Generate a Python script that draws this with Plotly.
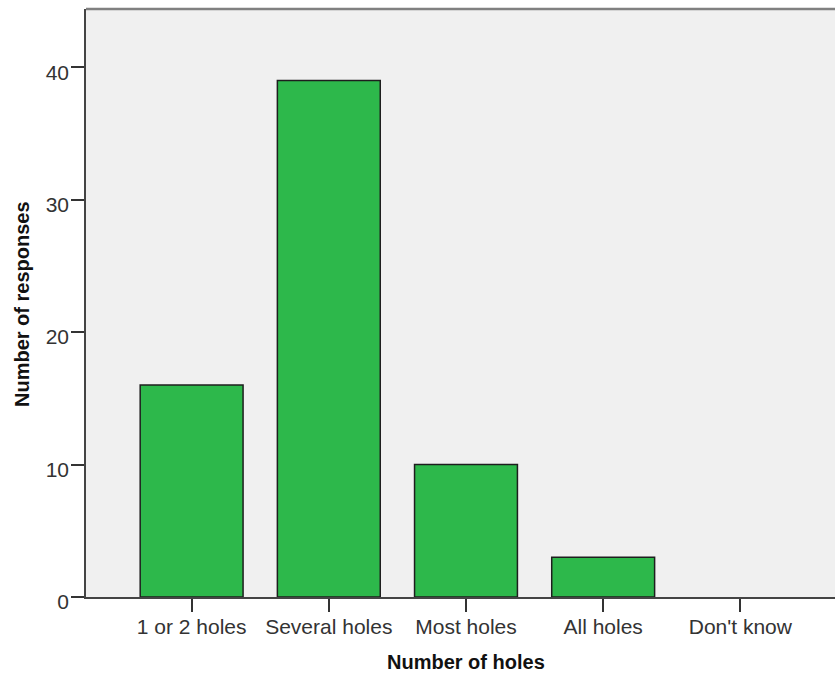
import plotly.graph_objects as go

categories = ["1 or 2 holes", "Several holes", "Most holes", "All holes", "Don't know"]
responses = [16, 39, 10, 3, 0]
y_ticks = [0, 10, 20, 30, 40]

W, H = 835, 673
L, R, T, B = 86, 0, 9, 76

# no outline on empty (zero-height) bars
line_widths = [1.5 if v > 0 else 0 for v in responses]

fig = go.Figure()
fig.add_trace(go.Bar(
    x=list(range(len(categories))),
    y=responses,
    width=0.75,
    marker=dict(color="#2db84b", line=dict(color="#1e1e1e", width=line_widths)),
    hoverinfo="skip",
))

font_family = "Liberation Sans, Arial, sans-serif"

fig.update_layout(
    width=W, height=H,
    margin=dict(l=L, r=R, t=T, b=B, pad=0),
    paper_bgcolor="white",
    plot_bgcolor="#f0f0f0",
    showlegend=False,
    font=dict(family=font_family, size=21, color="#333333"),
    xaxis=dict(
        range=[-0.77, 4.69],
        tickmode="array",
        tickvals=list(range(len(categories))),
        ticktext=categories,
        ticks="outside", ticklen=13, tickwidth=1.5, tickcolor="#333333",
        showline=True, linecolor="#444444", linewidth=1.5,
        showgrid=False, zeroline=False,
        ticklabelstandoff=-3,
    ),
    yaxis=dict(
        range=[0, 44.4],
        tickmode="array",
        tickvals=y_ticks,
        ticktext=[str(v) for v in y_ticks],
        ticks="outside", ticklen=13, tickwidth=1.5, tickcolor="#333333",
        showline=True, linecolor="#444444", linewidth=1.5,
        showgrid=False, zeroline=False,
        ticklabelstandoff=-2,
        ticklabelshift=5,
    ),
    shapes=[dict(type="line", xref="paper", yref="paper", x0=0, x1=1, y0=1, y1=1,
                 line=dict(color="#808080", width=2.5))],
    annotations=[
        dict(text="<b>Number of holes</b>", xref="paper", yref="paper",
             x=(465.5 - L) / (W - L - R), y=(H - B - 662) / (H - B - T),
             xanchor="center", yanchor="middle", showarrow=False,
             font=dict(family=font_family, size=20, color="#111111")),
        dict(text="<b>Number of responses</b>", xref="paper", yref="paper",
             x=(22 - L) / (W - L - R), y=(H - B - 304) / (H - B - T),
             xanchor="center", yanchor="middle", showarrow=False, textangle=-90,
             font=dict(family=font_family, size=20, color="#111111")),
    ],
)

fig.write_html("out.html",
               config={"displayModeBar": False},
               post_script="document.body.style.margin='0';document.body.style.overflow='hidden';")
